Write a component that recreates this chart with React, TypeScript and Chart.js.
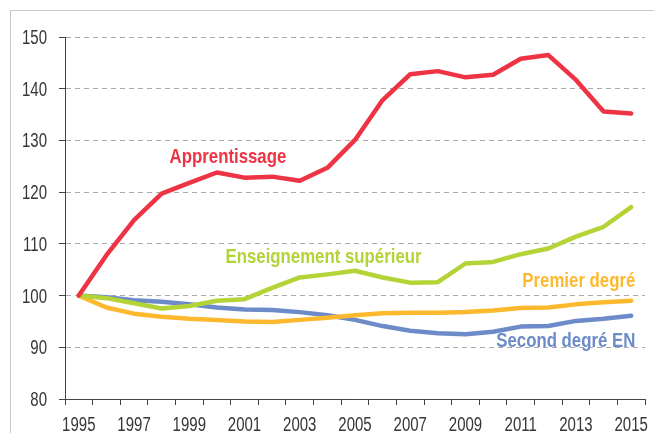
import React, { useEffect, useRef } from "react";
import { Chart, registerables } from "chart.js";

Chart.register(...registerables);

const years = ["1995","1996","1997","1998","1999","2000","2001","2002","2003","2004","2005","2006","2007","2008","2009","2010","2011","2012","2013","2014","2015"];

const apprentissage = [100, 107.8, 114.6, 119.7, 121.8, 123.8, 122.8, 123.0, 122.2, 124.7, 130.1, 137.8, 142.8, 143.4, 142.2, 142.7, 145.8, 146.5, 141.7, 135.6, 135.2];
const superieur = [100, 99.5, 98.5, 97.5, 98.0, 99.0, 99.3, 101.5, 103.5, 104.1, 104.8, 103.5, 102.5, 102.6, 106.2, 106.5, 108.0, 109.1, 111.4, 113.3, 117.1];
const premier = [100, 97.7, 96.5, 95.9, 95.5, 95.3, 95.0, 94.9, 95.3, 95.7, 96.2, 96.6, 96.7, 96.7, 96.8, 97.1, 97.6, 97.7, 98.3, 98.7, 99.0];
const second = [100, 99.7, 99.1, 98.8, 98.3, 97.7, 97.3, 97.2, 96.8, 96.2, 95.3, 94.1, 93.2, 92.7, 92.5, 93.0, 94.0, 94.1, 95.1, 95.5, 96.1];

const seriesNames = ["Apprentissage", "Enseignement supérieur", "Premier degré", "Second degré EN"];
const seriesColors = ["#EE3344", "#B3D336", "#FDB92E", "#6C8BC8"];

// label anchors in data space: [year index, value, align]
const labelYearIdx = [5.4, 8.86, 20.15, 20.15];
const labelValues = [125.6, 106.3, 101.7, 90.1];
const labelAlign: CanvasTextAlign[] = ["center", "center", "right", "right"];

const FONT = "'Liberation Sans', Arial, sans-serif";
const LABEL_SQUEEZE = 0.8;
const TICK_SQUEEZE = 0.77;

function squeezedText(ctx: CanvasRenderingContext2D, text: string, x: number, y: number, sx: number) {
  ctx.save();
  ctx.translate(x, y);
  ctx.scale(sx, 1);
  ctx.fillText(text, 0, 0);
  ctx.restore();
}

const textPlugin = {
  id: "textPlugin",
  afterDraw(chart: any) {
    const { ctx, scales } = chart;
    const xs = scales.x;
    const ys = scales.y;
    ctx.save();
    // tick labels
    ctx.fillStyle = "#363636";
    ctx.font = `19.5px ${FONT}`;
    ctx.textBaseline = "alphabetic";
    ctx.textAlign = "right";
    ys.ticks.forEach((t: any) => {
      const y = ys.getPixelForValue(t.value);
      squeezedText(ctx, String(t.value), ys.right - 18, y + 7, TICK_SQUEEZE);
    });
    ctx.textAlign = "center";
    years.forEach((yr, i) => {
      if (i % 2 !== 0) return;
      const x = xs.getPixelForValue(i);
      squeezedText(ctx, yr, x, xs.top + 32, TICK_SQUEEZE);
    });
    // series labels
    ctx.font = `bold 21px ${FONT}`;
    seriesNames.forEach((name, i) => {
      const i0 = Math.min(Math.floor(labelYearIdx[i]), 19);
      const frac = labelYearIdx[i] - i0;
      const p0 = xs.getPixelForValue(i0);
      const p1 = xs.getPixelForValue(i0 + 1);
      const x = p0 + frac * (p1 - p0);
      const y = ys.getPixelForValue(labelValues[i]);
      ctx.fillStyle = seriesColors[i];
      ctx.textAlign = labelAlign[i];
      squeezedText(ctx, name, x, y, LABEL_SQUEEZE);
    });
    ctx.restore();
  },
};

export default function App() {
  const ref = useRef<HTMLCanvasElement>(null);
  useEffect(() => {
    if (!ref.current) return;
    const data = [apprentissage, superieur, premier, second];
    const chart = new Chart(ref.current, {
      type: "line",
      data: {
        labels: years,
        datasets: data.map((d, i) => ({
          label: seriesNames[i],
          data: d,
          borderColor: seriesColors[i],
          backgroundColor: seriesColors[i],
          borderWidth: 4.5,
          pointRadius: 0,
          tension: 0,
          borderCapStyle: "round" as const,
          borderJoinStyle: "round" as const,
          fill: false,
        })),
      },
      options: {
        animation: false,
        responsive: false,
        maintainAspectRatio: false,
        layout: { padding: { left: 0, top: 37, right: 9, bottom: 0 } },
        plugins: { legend: { display: false }, tooltip: { enabled: false } },
        scales: {
          x: {
            type: "category",
            offset: true,
            afterFit: (s: any) => { s.height = 34; },
            grid: {
              offset: true,
              drawOnChartArea: false,
              drawTicks: true,
              tickLength: 6,
              tickColor: "#444",
              tickWidth: 1,
            },
            border: { display: true, color: "#444", width: 1 },
            ticks: { display: false, autoSkip: false, maxRotation: 0 },
          },
          y: {
            min: 80,
            max: 150,
            afterFit: (s: any) => { s.width = 65; },
            grid: {
              color: "#aaa",
              lineWidth: 1,
              drawTicks: true,
              tickLength: 6,
              tickColor: "#444",
              tickBorderDash: [],
            },
            border: { display: true, color: "#444", width: 1, dash: [5, 4] },
            ticks: { display: false, stepSize: 10 },
          },
        },
      },
      plugins: [textPlugin],
    });
    return () => chart.destroy();
  }, []);
  return (
    <div style={{ position: "absolute", left: 0, top: 0, width: 654, height: 433, background: "#fff", overflow: "hidden" }}>
      <div style={{ position: "absolute", left: 10, top: 10, width: 660, height: 440, borderTop: "1px solid #c8c8c8", borderLeft: "1px solid #c8c8c8" }} />
      <canvas ref={ref} width={654} height={433} style={{ position: "absolute", left: 0, top: 0, width: 654, height: 433 }} />
    </div>
  );
}
